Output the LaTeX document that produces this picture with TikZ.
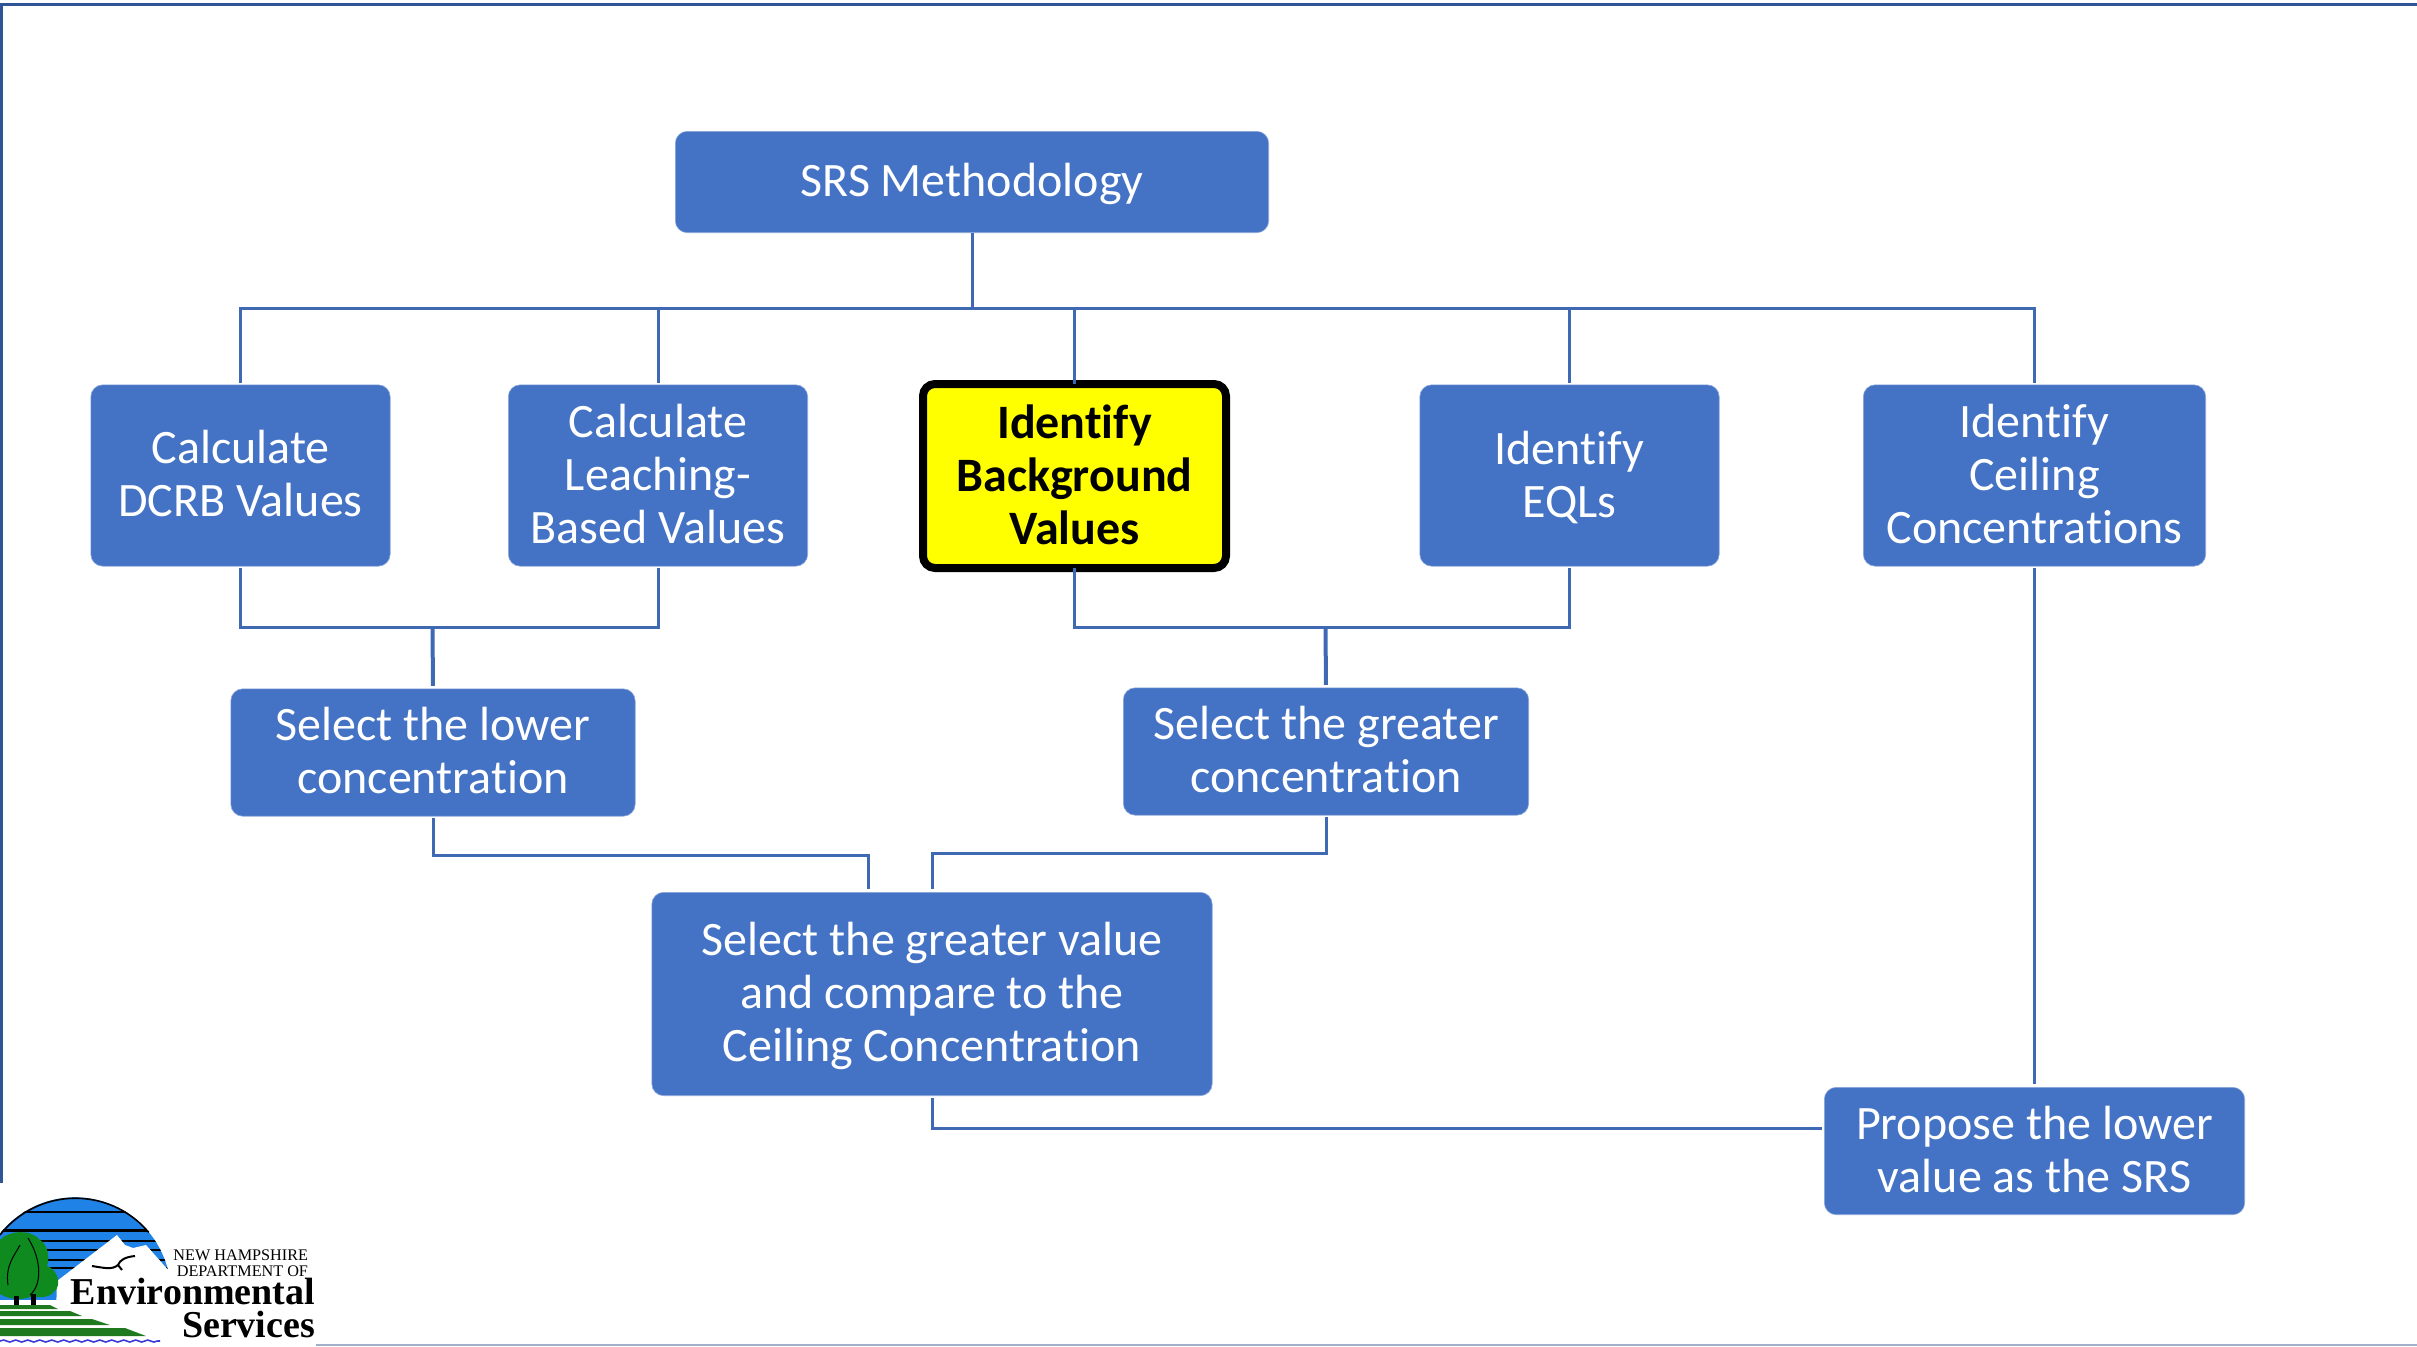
\documentclass[tikz,border=0pt]{standalone}
\usepackage{fontspec}
\usetikzlibrary{decorations.pathmorphing}
\setmainfont[Ligatures=NoCommon]{Carlito}
\newfontfamily\logoserif{Liberation Serif}
\definecolor{boxblue}{HTML}{4472C4}
\definecolor{linkblue}{HTML}{3F69B3}
\definecolor{frameblue}{HTML}{2F5597}
\definecolor{footline}{HTML}{A3B0C9}
\definecolor{skyblue}{HTML}{1E82E6}
\definecolor{treegreen}{HTML}{0E8A1E}
\definecolor{landgreen}{HTML}{1F7A1F}
\definecolor{wave}{HTML}{3A3AD8}
\definecolor{focusyellow}{HTML}{FFFF00}
\tikzset{
  x=0.5pt,y=-0.5pt,
  flowbox/.style={rectangle,rounded corners=6pt,fill=boxblue,draw=boxblue!60!white,line width=0.3pt,
    inner sep=0pt,outer sep=0pt},
  focusbox/.style={flowbox,draw=black,line width=4pt,fill=focusyellow},
  flowtext/.style={text=white,align=center,inner sep=0pt,outer sep=0pt,font=\fontsize{24}{26.5}\selectfont},
  focustext/.style={text=black,align=center,inner sep=0pt,outer sep=0pt,font=\fontsize{24}{26.5}\selectfont\bfseries},
  conn/.style={draw=linkblue,line width=1.5pt,line cap=butt},
  gapstart/.style={shorten <=1pt},
  gapend/.style={shorten >=1.5pt},
  logotext/.style={inner sep=0pt,outer sep=0pt,text=black}
}
\begin{document}
\begin{tikzpicture}
\useasboundingbox (0,0) rectangle (2417,1346);
% frame
\draw[frameblue,line width=1.5pt] (2417,4.5) -- (1.5,4.5) -- (1.5,1183);
\draw[footline,line width=1pt] (316,1344.5) -- (2417,1344.5);
% boxes
\node[flowbox,minimum width=296.7pt,minimum height=50.7pt,label={[flowtext,yshift=-1.1pt]center:{SRS Methodology}}] (srs) at (972,182) {};
\node[flowbox,minimum width=149.7pt,minimum height=90.7pt,label={[flowtext,yshift=0.8pt]center:{Calculate\\DCRB Values}}] (dcrb) at (240.5,475.5) {};
\node[flowbox,minimum width=149.7pt,minimum height=90.7pt,label={[flowtext,yshift=0.8pt]center:{Calculate\\Leaching-\\Based Values}}] (leach) at (658,475.5) {};
\node[focusbox,minimum width=151.5pt,minimum height=92pt,label={[focustext,yshift=0.8pt]center:{Identify\\Background\\Values}}] (bg) at (1074.5,476) {};
\node[flowbox,minimum width=149.7pt,minimum height=90.7pt,label={[flowtext,yshift=-0.8pt]center:{Identify\\EQLs}}] (eql) at (1569.5,475.5) {};
\node[flowbox,minimum width=171.2pt,minimum height=90.7pt,label={[flowtext,yshift=0.8pt]center:{Identify\\Ceiling\\Concentrations}}] (ceil) at (2034.5,475.5) {};
\node[flowbox,minimum width=202.2pt,minimum height=63.7pt,label={[flowtext,yshift=0.8pt]center:{Select the lower\\concentration}}] (lower) at (433,752.5) {};
\node[flowbox,minimum width=202.7pt,minimum height=63.7pt,label={[flowtext,yshift=0.8pt]center:{Select the greater\\concentration}}] (greater) at (1326,751.5) {};
\node[flowbox,minimum width=280.2pt,minimum height=101.7pt,label={[flowtext,yshift=-1.2pt]center:{Select the greater value\\and compare to the\\Ceiling Concentration}}] (val) at (932,994) {};
\node[flowbox,minimum width=210.2pt,minimum height=63.7pt,label={[flowtext,yshift=1pt]center:{Propose the lower\\value as the SRS}}] (prop) at (2034.5,1151) {};
% routing points
\coordinate (bus) at (972,308);
\coordinate (joinL) at (432.5,627);
\coordinate (joinR) at (1325.5,627);
\coordinate (elbowL) at (868,855);
\coordinate (entryL) at (868,892);
\coordinate (elbowR) at (932,853);
\coordinate (propIn) at (1825,1128);
% connectors
\draw[conn] (srs.south) -- (bus);
\foreach \c in {dcrb,leach,eql,ceil}{\draw[conn,gapstart] (\c.north) |- (bus);}
\draw[conn] (bg.north) |- (bus);
\draw[conn,gapstart] (dcrb.south) |- (joinL);
\draw[conn,gapstart] (leach.south) |- (joinL);
\draw[conn,line width=2pt,gapend] (joinL) -- (lower.north);
\draw[conn] (bg.south) |- (joinR);
\draw[conn,gapstart] (eql.south) |- (joinR);
\draw[conn,line width=2pt,gapend] (joinR) -- (greater.north);
\draw[conn,gapstart,gapend] (lower.south) |- (elbowL) -- (entryL);
\draw[conn,gapstart,gapend] (greater.south) |- (elbowR) -- (val.north);
\draw[conn,gapstart,gapend] (val.south) |- (propIn);
\draw[conn,gapstart,gapend] (ceil.south) -- (prop.north);
% logo
\begin{scope}
  \clip (0,1160) rectangle (340,1346);
  \begin{scope}
    \clip (75,1293) circle (95.7);
    \fill[skyblue] (0,1190) rectangle (180,1300);
    \foreach \yy/\ww in {1212/1.3,1230/1.5,1241/1.3,1250/1.2,1260/1,1268/1}{
      \draw[black,line width=\ww pt] (0,\yy) -- (180,\yy);}
  \end{scope}
  \draw[black,line width=0.8pt] (0,1235) arc[start angle=218,end angle=320,radius=95.7];
  \fill[white] (57,1281) -- (117,1235) -- (125,1245) -- (133,1248) -- (146,1245) -- (170,1272) -- (175,1346) -- (55,1346) -- cycle;
  \draw[black,line width=1pt] (92,1266) .. controls (105,1268) and (112,1270) .. (118,1265) .. controls (120,1260) and (125,1257) .. (135,1256);
  \draw[black,line width=1pt] (118,1265) -- (122,1270);
  % tree
  \fill[treegreen] (0,1240) .. controls (8,1231) and (30,1228) .. (40,1240) .. controls (48,1245) and (50,1258) .. (47,1266) .. controls (58,1270) and (62,1285) .. (54,1292) .. controls (46,1300) and (36,1296) .. (30,1297) .. controls (22,1300) and (10,1300) .. (0,1294) -- cycle;
  \draw[black,line width=0.5pt] (8,1285) .. controls (5,1265) and (15,1255) .. (20,1245);
  \draw[black,line width=0.5pt] (28,1238) .. controls (42,1260) and (42,1285) .. (30,1295);
  \fill[black] (14,1296) rectangle (19,1306);
  \fill[black] (31,1294) rectangle (36,1306);
  % land
  \fill[landgreen] (0,1305) -- (50,1305) -- (58,1309) -- (0,1309) -- cycle;
  \fill[landgreen] (0,1311) -- (70,1311) -- (82,1316) -- (0,1316) -- cycle;
  \fill[landgreen] (0,1319) -- (92,1319) -- (110,1325) -- (0,1325) -- cycle;
  \fill[landgreen] (0,1328) -- (125,1328) -- (146,1336) -- (0,1336) -- cycle;
  \draw[wave,line width=0.8pt,decorate,decoration={snake,amplitude=0.5pt,segment length=6pt}] (0,1341) -- (160,1341);
\end{scope}
\node[logotext,font=\logoserif\fontsize{8.1}{8}\selectfont,align=right,anchor=east] (nhdes) at (308,1263) {NEW HAMPSHIRE\\DEPARTMENT OF};
\node[logotext,font=\logoserif\bfseries\fontsize{19}{19}\selectfont,anchor=east] (env) at (315,1291) {Environmental};
\node[logotext,font=\logoserif\bfseries\fontsize{19}{19}\selectfont,anchor=east] (svc) at (315,1324) {Services};
\end{tikzpicture}
\end{document}
